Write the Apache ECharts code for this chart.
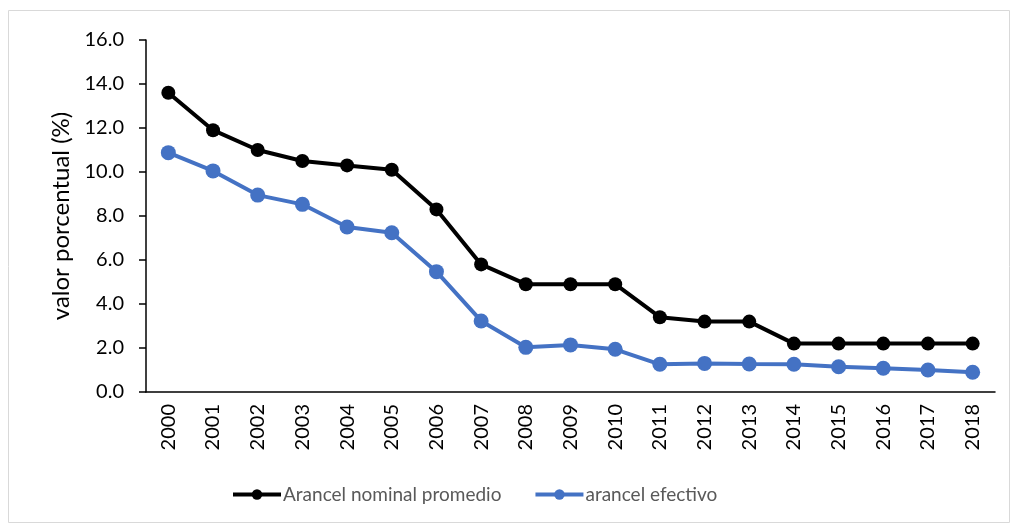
<!DOCTYPE html>
<html>
<head>
<meta charset="utf-8">
<script src="https://cdn.jsdelivr.net/npm/echarts@6/dist/echarts.min.js"></script>
<style>
  html, body { margin: 0; padding: 0; background: #fff; }
  #chart { width: 1015px; height: 526px; }
</style>
</head>
<body>
<div id="chart"></div>
<script>
const years = ['2000', '2001', '2002', '2003', '2004', '2005', '2006', '2007', '2008', '2009',
  '2010', '2011', '2012', '2013', '2014', '2015', '2016', '2017', '2018']
const nominal = [13.6, 11.9, 11.0, 10.5, 10.3, 10.1, 8.3, 5.8, 4.9, 4.9, 4.9, 3.4, 3.2, 3.2, 2.2, 2.2, 2.2, 2.2, 2.2]
const efectivo = [10.88, 10.05, 8.95, 8.53, 7.5, 7.24, 5.47, 3.23, 2.03, 2.14, 1.94, 1.26, 1.3, 1.27, 1.26, 1.15, 1.08, 1.0, 0.9]

const font = 'Lato, "Open Sans", sans-serif'
const chart = echarts.init(document.getElementById('chart'))

chart.setOption({
  animation: false,
  graphic: [{
    type: 'rect',
    shape: { x: 8.5, y: 10.5, width: 1001, height: 512 },
    style: { fill: 'none', stroke: '#d9d9d9', lineWidth: 1 },
    silent: true
  }],
  grid: { left: 146, right: 20, top: 40, bottom: 134 },
  legend: {
    bottom: 17,
    left: 226,
    itemGap: 32,
    itemWidth: 48,
    itemHeight: 13,
    lineStyle: { width: 4 },
    textStyle: { fontFamily: font, fontSize: 19, color: '#595959', padding: [0, 0, 0, -3] },
    data: ['Arancel nominal promedio', 'arancel efectivo']
  },
  xAxis: {
    type: 'category',
    data: years,
    boundaryGap: true,
    axisLine: { lineStyle: { color: '#000', width: 1.5 } },
    axisTick: { show: false },
    axisLabel: { rotate: 90, color: '#000', fontFamily: font, fontSize: 20, margin: 12 }
  },
  yAxis: {
    type: 'value',
    min: 0,
    max: 16,
    interval: 2,
    name: 'valor porcentual (%)',
    nameLocation: 'middle',
    nameGap: 73,
    nameTextStyle: { color: '#000', fontFamily: font, fontSize: 24 },
    axisLine: { show: true, lineStyle: { color: '#000', width: 1.5 } },
    axisTick: { show: true, length: 7, lineStyle: { color: '#000', width: 1.5 } },
    splitLine: { show: false },
    axisLabel: {
      color: '#000', fontFamily: font, fontSize: 20, margin: 22,
      formatter: v => v.toFixed(1)
    }
  },
  series: [
    {
      name: 'Arancel nominal promedio',
      type: 'line',
      data: nominal,
      symbol: 'circle',
      symbolSize: 14,
      lineStyle: { color: '#000', width: 4 },
      itemStyle: { color: '#000' }
    },
    {
      name: 'arancel efectivo',
      type: 'line',
      data: efectivo,
      symbol: 'circle',
      symbolSize: 15,
      lineStyle: { color: '#4472c4', width: 4 },
      itemStyle: { color: '#4472c4' }
    }
  ]
})
</script>
</body>
</html>
